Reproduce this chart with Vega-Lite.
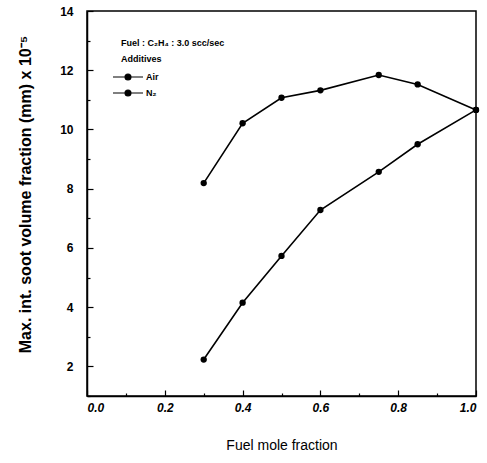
{
  "$schema": "https://vega.github.io/schema/vega-lite/v6.json",
  "width": 389,
  "height": 385,
  "autosize": {"type": "none"},
  "padding": {"left": 87, "top": 11, "right": 11, "bottom": 67},
  "background": "white",
  "config": {
    "font": "Liberation Sans",
    "view": {"stroke": "black", "strokeWidth": 1.5},
    "axis": {"grid": false, "domainColor": "black", "domainWidth": 1.5, "tickColor": "black", "tickWidth": 1.2, "labelColor": "black", "titleColor": "black"}
  },
  "data": {
    "values": [
      {"series": "Air", "x": 0.3, "y": 8.19},
      {"series": "Air", "x": 0.4, "y": 10.21},
      {"series": "Air", "x": 0.5, "y": 11.07},
      {"series": "Air", "x": 0.6, "y": 11.32},
      {"series": "Air", "x": 0.75, "y": 11.84},
      {"series": "Air", "x": 0.85, "y": 11.52},
      {"series": "Air", "x": 1.0, "y": 10.66},
      {"series": "N₂", "x": 0.3, "y": 2.23},
      {"series": "N₂", "x": 0.4, "y": 4.15},
      {"series": "N₂", "x": 0.5, "y": 5.73},
      {"series": "N₂", "x": 0.6, "y": 7.28},
      {"series": "N₂", "x": 0.75, "y": 8.57},
      {"series": "N₂", "x": 0.85, "y": 9.5},
      {"series": "N₂", "x": 1.0, "y": 10.66}
    ]
  },
  "encoding": {
    "x": {
      "field": "x", "type": "quantitative",
      "scale": {"domain": [0, 1], "nice": false},
      "axis": {
        "title": "Fuel mole fraction",
        "titleFontSize": 14, "titleFontWeight": "normal", "titlePadding": 25,
        "values": [0, 0.1, 0.2, 0.3, 0.4, 0.5, 0.6, 0.7, 0.8, 0.9, 1.0],
        "labelExpr": "round(datum.value*10)%2==0 ? format(datum.value,'.1f') : ''",
        "labelFontSize": 12, "labelFontWeight": "bold", "labelFontStyle": "italic",
        "labelPadding": 12,
        "tickSize": {"condition": {"test": "round(datum.value*10)%2==0", "value": -6}, "value": -3}
      }
    },
    "y": {
      "field": "y", "type": "quantitative",
      "scale": {"domain": [1, 14], "nice": false},
      "axis": {
        "title": "Max. int. soot volume fraction (mm) x 10⁻⁵",
        "titleFontSize": 16, "titleFontWeight": "bold", "titlePadding": 26, "titleY": 183,
        "values": [1, 2, 3, 4, 5, 6, 7, 8, 9, 10, 11, 12, 13, 14],
        "labelExpr": "datum.value%2==0 ? datum.value : ''",
        "labelFontSize": 12, "labelFontWeight": "bold",
        "labelPadding": 20,
        "tickSize": {"condition": {"test": "datum.value%2==0", "value": -6}, "value": -3}
      }
    },
    "color": {
      "field": "series", "type": "nominal",
      "scale": {"domain": ["Air", "N₂"], "range": ["black", "black"]},
      "legend": {
        "title": ["Fuel : C₂H₄ : 3.0 scc/sec", "Additives"],
        "orient": "none", "legendX": 34, "legendY": 28,
        "titleFontSize": 9, "titleFontWeight": "bold", "titleLineHeight": 16, "titlePadding": 6,
        "labelFontSize": 9, "labelFontWeight": "bold",
        "symbolType": "M-2.5,0H2.5M-0.5,0A0.5,0.5 0 1,1 0.5,0A0.5,0.5 0 1,1 -0.5,0Z",
        "symbolSize": 144, "symbolStrokeWidth": 1.1, "symbolFillColor": "black", "symbolStrokeColor": "black",
        "rowPadding": 3, "labelOffset": 11
      }
    }
  },
  "layer": [
    {"mark": {"type": "line", "strokeWidth": 1.6}},
    {"mark": {"type": "point", "filled": true, "size": 40, "opacity": 1}}
  ]
}
